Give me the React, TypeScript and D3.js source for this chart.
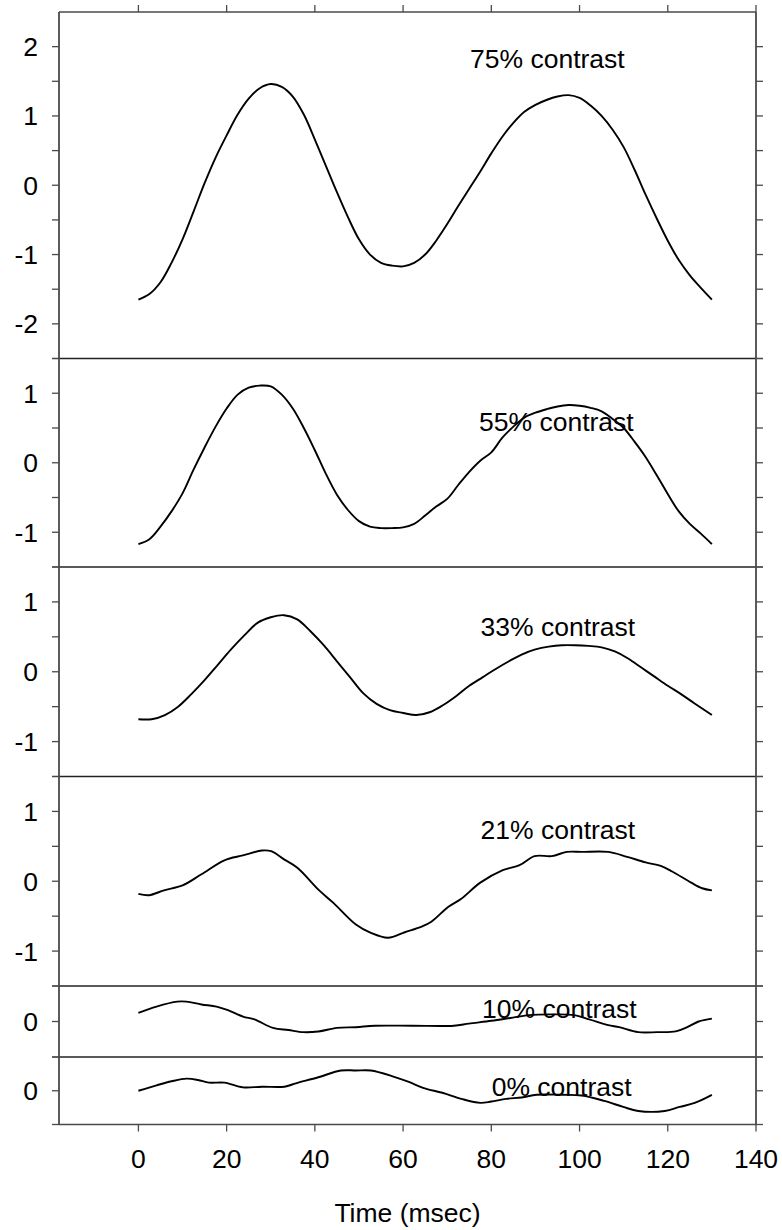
import React from 'react';
import * as d3 from 'd3';

// ---------- data ----------
const X_TICKS = [0, 20, 40, 60, 80, 100, 120, 140];
const X_LABEL = 'Time (msec)';
const SERIES_LABELS = ['75% contrast', '55% contrast', '33% contrast', '21% contrast', '10% contrast', '0% contrast'];
const Y_DOMAINS: [number, number][] = [[-2.5, 2.5], [-1.5, 1.5], [-1.5, 1.5], [-1.5, 1.5], [-0.5, 0.5], [-0.5, 0.5]];
const Y_TICK_LABELS = [[-2, -1, 0, 1, 2], [-1, 0, 1], [-1, 0, 1], [-1, 0, 1], [0], [0]];

const T_75 = [0, 2.5, 5, 7.5, 10, 12.5, 15, 17.5, 20, 22.5, 25, 27.5, 30, 32.5, 35, 37.5, 40, 42.5, 45, 47.5, 50, 52.5, 55, 57.5, 60, 62.5, 65, 67.5, 70, 72.5, 75, 77.5, 80, 82.5, 85, 87.5, 90, 92.5, 95, 97.5, 100, 102.5, 105, 107.5, 110, 112.5, 115, 117.5, 120, 122.5, 125, 127.5, 130];
const V_75 = [-1.65, -1.57, -1.4, -1.12, -0.78, -0.38, 0.03, 0.4, 0.72, 1.02, 1.25, 1.4, 1.46, 1.42, 1.28, 1.02, 0.66, 0.28, -0.1, -0.46, -0.78, -1.0, -1.12, -1.16, -1.17, -1.12, -1.0, -0.8, -0.56, -0.3, -0.05, 0.2, 0.46, 0.7, 0.9, 1.06, 1.16, 1.23, 1.28, 1.3, 1.26, 1.15, 1.0, 0.8, 0.55, 0.22, -0.14, -0.48, -0.8, -1.08, -1.3, -1.48, -1.65];

const T_55 = T_75;
const V_55 = [-1.17, -1.1, -0.92, -0.7, -0.44, -0.1, 0.22, 0.52, 0.78, 0.98, 1.08, 1.11, 1.1, 0.98, 0.78, 0.5, 0.18, -0.16, -0.46, -0.68, -0.84, -0.92, -0.94, -0.94, -0.93, -0.88, -0.76, -0.63, -0.52, -0.32, -0.13, 0.03, 0.15, 0.36, 0.52, 0.65, 0.72, 0.77, 0.81, 0.83, 0.82, 0.79, 0.74, 0.63, 0.5, 0.3, 0.08, -0.18, -0.45, -0.7, -0.88, -1.02, -1.17];

const T_33 = [0, 3, 6, 9, 12, 15, 18, 21, 24, 27, 30, 33, 36, 39, 42, 45, 48, 51, 54, 57, 60, 63, 66, 69, 72, 75, 78, 81, 84, 87, 90, 93, 96, 99, 102, 105, 108, 111, 114, 117, 120, 123, 126, 130];
const V_33 = [-0.68, -0.68, -0.62, -0.5, -0.32, -0.12, 0.1, 0.32, 0.52, 0.7, 0.78, 0.81, 0.75, 0.58, 0.38, 0.15, -0.08, -0.31, -0.46, -0.55, -0.59, -0.62, -0.58, -0.48, -0.35, -0.2, -0.08, 0.04, 0.15, 0.25, 0.32, 0.36, 0.38, 0.38, 0.37, 0.35, 0.29, 0.19, 0.06, -0.07, -0.2, -0.32, -0.45, -0.62];

const T_21 = [0, 2.4, 5.8, 10, 14.3, 19.5, 23.7, 28, 30.1, 33.1, 36.1, 40.8, 44.2, 49.3, 52.7, 56.6, 60.4, 64.2, 66.4, 70.2, 73.2, 77.5, 82.6, 86.4, 89.8, 93.7, 97.1, 100.5, 106.5, 110.8, 115, 118.4, 121, 125.3, 127.8, 130];
const V_21 = [-0.18, -0.2, -0.13, -0.06, 0.1, 0.3, 0.37, 0.44, 0.43, 0.31, 0.19, -0.12, -0.31, -0.62, -0.74, -0.81, -0.73, -0.65, -0.58, -0.37, -0.25, -0.02, 0.16, 0.23, 0.36, 0.36, 0.42, 0.42, 0.42, 0.35, 0.27, 0.22, 0.14, -0.02, -0.1, -0.13];

const T_10 = [0, 4.1, 8.8, 10.9, 14.3, 17.7, 20.3, 23.7, 26.3, 30.5, 34, 37.4, 40.8, 45, 49.3, 53.6, 62.1, 71.5, 74.9, 80, 84.3, 88.5, 93.7, 98.8, 102.2, 106.5, 109, 113.3, 117.6, 121.8, 124.4, 127, 130];
const V_10 = [0.12, 0.21, 0.28, 0.28, 0.24, 0.21, 0.16, 0.07, 0.03, -0.09, -0.12, -0.15, -0.14, -0.09, -0.08, -0.06, -0.06, -0.06, -0.03, 0.01, 0.05, 0.09, 0.1, 0.09, 0.03, -0.05, -0.08, -0.15, -0.15, -0.14, -0.08, 0.0, 0.04];

const T_0 = [0, 4.1, 7.5, 10.9, 13.5, 16, 19.5, 23.7, 28, 33.1, 35.7, 40.8, 45.9, 49.3, 52.7, 57.8, 61.3, 64.7, 68.9, 73.2, 77.5, 80, 83.4, 86.9, 90.3, 96.2, 100.5, 105.6, 109.9, 113.3, 119.3, 122.7, 126.1, 130];
const V_0 = [0, 0.08, 0.14, 0.18, 0.16, 0.12, 0.12, 0.05, 0.06, 0.06, 0.11, 0.2, 0.3, 0.3, 0.3, 0.21, 0.13, 0.04, -0.03, -0.12, -0.18, -0.16, -0.12, -0.1, -0.06, -0.06, -0.07, -0.15, -0.24, -0.3, -0.3, -0.24, -0.18, -0.06];

const SERIES_T = [T_75, T_55, T_33, T_21, T_10, T_0];
const SERIES_V = [V_75, V_55, V_33, V_21, V_10, V_0];

// ---------- layout ----------
const W = 782;
const H = 1230;
const LEFT = 59;
const RIGHT = 756;
const X_DOMAIN: [number, number] = [-18, 140];
const PANEL_PX: [number, number][] = [[12, 358.5], [358.5, 567], [567, 776.5], [776.5, 986], [986, 1057], [1057, 1124.5]];
const LABEL_POS: [number, number][] = [[470, 67.7], [479, 431], [480.5, 636], [480.5, 839], [482, 1017.7], [491.7, 1096]];
const TICK = 7;
const FONT = 'Liberation Sans, Arial, Helvetica, sans-serif';
const FS = 26.5;
const AXIS_COLOR = '#4a4a4a';

export default function App() {
  const x = d3.scaleLinear().domain(X_DOMAIN).range([LEFT, RIGHT]);
  const ys = PANEL_PX.map(([top, bottom], i) => d3.scaleLinear().domain(Y_DOMAINS[i]).range([bottom, top]));
  const TOP = PANEL_PX[0][0];
  const BOTTOM = PANEL_PX[PANEL_PX.length - 1][1];

  return (
    <svg width={W} height={H} style={{ position: 'absolute', left: 0, top: 0, background: '#fff' }} fontFamily={FONT}>
      <rect x={0} y={0} width={W} height={H} fill="#fff" />
      {/* panels */}
      {ys.map((y, i) => {
        const [lo, hi] = Y_DOMAINS[i];
        const minor = d3.range(lo, hi + 1e-9, 0.5).filter((v) => !(i === 0 && v === hi));
        const pts: [number, number][] = SERIES_T[i].map((t, k) => [t, SERIES_V[i][k]]);
        const line = d3
          .line<[number, number]>()
          .x((d) => x(d[0]))
          .y((d) => y(d[1]))
          .curve(d3.curveCatmullRom.alpha(0.5));
        return (
          <g key={i}>
            {minor.map((v) => (
              <g key={v}>
                <line x1={LEFT - TICK} x2={LEFT} y1={y(v)} y2={y(v)} stroke={AXIS_COLOR} strokeWidth={1.3} />
                <line x1={RIGHT} x2={RIGHT + TICK} y1={y(v)} y2={y(v)} stroke={AXIS_COLOR} strokeWidth={1.3} />
              </g>
            ))}
            {Y_TICK_LABELS[i].map((v) => (
              <text key={v} x={38} y={y(v)} dy="0.36em" textAnchor="end" fontSize={FS} fill="#000">
                {v}
              </text>
            ))}
            {i > 0 && (
              <line x1={LEFT} x2={RIGHT} y1={PANEL_PX[i][0]} y2={PANEL_PX[i][0]} stroke="#222" strokeWidth={1.3} />
            )}
            <path d={line(pts) || ''} fill="none" stroke="#000" strokeWidth={1.9} strokeLinejoin="round" />
            <text x={LABEL_POS[i][0]} y={LABEL_POS[i][1]} fontSize={FS} fill="#000">
              {SERIES_LABELS[i]}
            </text>
          </g>
        );
      })}
      {/* x ticks */}
      {X_TICKS.map((t) => (
        <g key={t}>
          <line x1={x(t)} x2={x(t)} y1={TOP - TICK} y2={TOP} stroke={AXIS_COLOR} strokeWidth={1.3} />
          <line x1={x(t)} x2={x(t)} y1={BOTTOM} y2={BOTTOM + TICK} stroke={AXIS_COLOR} strokeWidth={1.3} />
          <text x={x(t)} y={1168} textAnchor="middle" fontSize={FS} fill="#000">
            {t}
          </text>
        </g>
      ))}
      {/* frame */}
      <line x1={LEFT} x2={RIGHT} y1={TOP} y2={TOP} stroke={AXIS_COLOR} strokeWidth={1.6} />
      <line x1={LEFT} x2={RIGHT} y1={BOTTOM} y2={BOTTOM} stroke={AXIS_COLOR} strokeWidth={1.6} />
      <line x1={LEFT} x2={LEFT} y1={TOP} y2={BOTTOM} stroke={AXIS_COLOR} strokeWidth={1.8} />
      <line x1={RIGHT} x2={RIGHT} y1={TOP} y2={BOTTOM} stroke={AXIS_COLOR} strokeWidth={1.8} />
      <text x={(LEFT + RIGHT) / 2} y={1222} textAnchor="middle" fontSize={FS} fill="#000">
        {X_LABEL}
      </text>
    </svg>
  );
}
